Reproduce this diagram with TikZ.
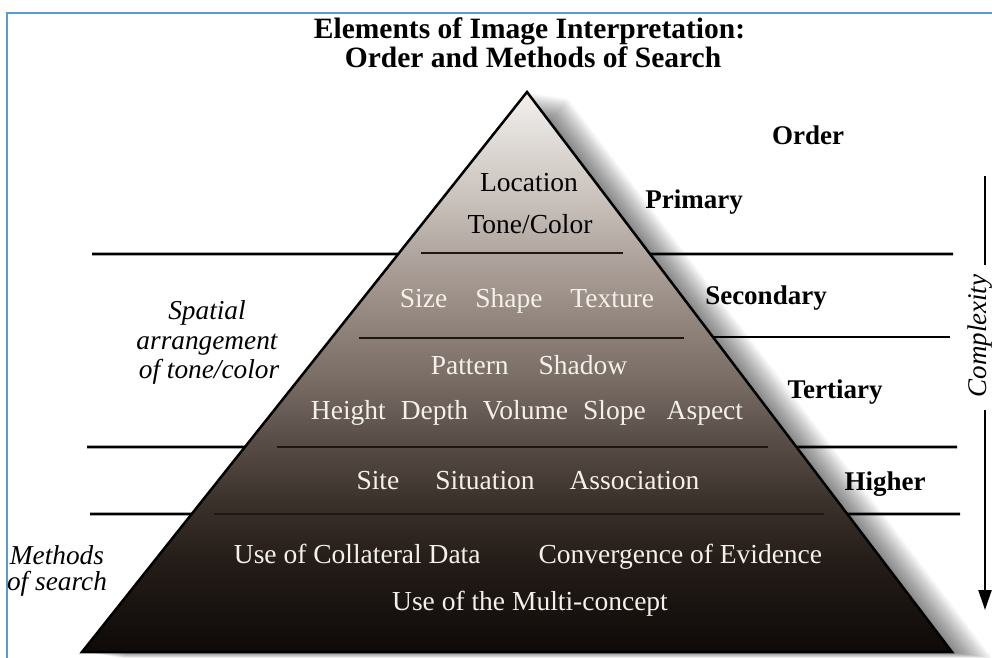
\documentclass[tikz,border=0pt]{standalone}
\usepackage{fontspec}
\setmainfont{Liberation Serif}
\usetikzlibrary{arrows.meta, calc}

\definecolor{c0}{HTML}{0E0A08}
\definecolor{c1}{HTML}{241C18}
\definecolor{c2}{HTML}{3C322C}
\definecolor{c3}{HTML}{594E47}
\definecolor{c4}{HTML}{786C65}
\definecolor{c5}{HTML}{978A82}
\definecolor{c6}{HTML}{ADA29B}
\definecolor{c7}{HTML}{C9C1BB}
\definecolor{c8}{HTML}{F2F0EE}
\definecolor{frameblue}{HTML}{5B9BD5}
\definecolor{lighttext}{HTML}{F4F0EA}
\definecolor{darkline}{HTML}{1E1814}

\pgfdeclareverticalshading{pyrshade}{100bp}{color(0bp)=(c0); color(25bp)=(c0); color(33bp)=(c1); color(38.6bp)=(c2); color(43.9bp)=(c3); color(49.3bp)=(c4); color(55.5bp)=(c5); color(60bp)=(c6); color(65.4bp)=(c7); color(75bp)=(c8); color(100bp)=(c8)}

\begin{document}
\begin{tikzpicture}[x=1pt,y=-1pt,
  titletext/.style={font=\fontsize{29.5}{32}\selectfont\bfseries, anchor=base, inner sep=0pt},
  lvltext/.style={font=\fontsize{27}{30}\selectfont\bfseries, anchor=base, inner sep=0pt},
  sidetext/.style={font=\fontsize{27.3}{30}\selectfont\itshape, anchor=base, inner sep=0pt},
  intext/.style={font=\fontsize{27.5}{30}\selectfont, text=lighttext, anchor=base, inner sep=0pt},
  intextdark/.style={intext, text=black},
  sepline/.style={line width=2.6pt, black},
  innerline/.style={line width=2.4pt, darkline},
  cxline/.style={line width=2.4pt, black},
  shadowlayer/.style={fill=black, opacity=0.022}]

\useasboundingbox (0,0) rectangle (992,657);
\fill[white] (0,0) rectangle (992,657);
\draw[frameblue, line width=2pt] (7,660) -- (7,13) -- (995,13);

% title
\node[titletext] (t1) at (529.5,38) {Elements of Image Interpretation:};
\node[titletext] (t2) at (533,67) {Order and Methods of Search};

% pyramid
\coordinate (apex) at (527,92);
\coordinate (bl) at (82,652);
\coordinate (br) at (952,652);
\foreach \k in {1,...,24}{
  \fill[shadowlayer]
    ([shift={(\k*1.7,\k*0.26)}]apex) -- ([shift={(\k*1.7,\k*0.26)}]bl)
    -- ([shift={(\k*1.7,\k*0.26)}]br) -- cycle;
}
\path[shade, shading=pyrshade, draw=black, line width=2.5pt]
  (apex) -- (bl) -- (br) -- cycle;

% edge points
\coordinate (L254) at ($(apex)!0.289286!(bl)$);
\coordinate (R254) at ($(apex)!0.289286!(br)$);
\coordinate (R337) at ($(apex)!0.4375!(br)$);
\coordinate (L447) at ($(apex)!0.633929!(bl)$);
\coordinate (R447) at ($(apex)!0.633929!(br)$);
\coordinate (L514) at ($(apex)!0.753571!(bl)$);
\coordinate (R514) at ($(apex)!0.753571!(br)$);

% outside lines
\draw[sepline] (92,254) -- (L254);
\draw[sepline] (R254) -- (953,254);
\draw[sepline] (R337) -- (950,337);
\draw[sepline] (87,447) -- (L447);
\draw[sepline] (R447) -- (957,447);
\draw[sepline] (90,514) -- (L514);
\draw[sepline] (R514) -- (960,514);

% inside lines
\draw[innerline] (421,253) -- (623,253);
\draw[innerline] (359,338) -- (684,338);
\draw[innerline] (277,447) -- (768,447);
\draw[innerline] (214,514) -- (824,514);

% inside texts
\node[intextdark] (loc) at (529,191) {Location};
\node[intextdark] (tone) at (530,233) {Tone/Color};
\node[intext] (sst) at (527,307) {Size\hspace{28pt}Shape\hspace{28pt}Texture};
\node[intext] (pat) at (529,374) {Pattern\hspace{30pt}Shadow};
\node[intext] (hdv) at (527,419) {Height\hspace{15pt}Depth\hspace{15pt}Volume\hspace{15pt}Slope\hspace{21pt}Aspect};
\node[intext] (site) at (528,489) {Site\hspace{36pt}Situation\hspace{35pt}Association};
\node[intext] (coll) at (528,563) {Use of Collateral Data\hspace{58pt}Convergence of Evidence};
\node[intext] (multi) at (530,610) {Use of the Multi-concept};

% right labels
\node[lvltext] (order) at (808,144) {Order};
\node[lvltext] (prim) at (694,208) {Primary};
\node[lvltext] (sec) at (766,304) {Secondary};
\node[lvltext] (ter) at (835,398) {Tertiary};
\node[lvltext] (hi) at (885,490) {Higher};

% left labels
\node[sidetext] (sp1) at (207,319) {Spatial};
\node[sidetext] (sp2) at (207,349) {arrangement};
\node[sidetext] (sp3) at (209,378) {of tone/color};
\node[sidetext] (ms1) at (57,564) {Methods};
\node[sidetext] (ms2) at (57,590) {of search};

% complexity
\node[font=\fontsize{27}{30}\selectfont\itshape, rotate=90, anchor=base, inner sep=0pt] (cx) at (986,336) {Complexity};
\coordinate (ca) at (985,176);
\coordinate (cb) at (985,265);
\coordinate (cc) at (985,410);
\coordinate (cd) at (985,610);
\draw[cxline] (ca) -- (cb);
\draw[cxline, -{Triangle[length=20pt,width=13pt]}] (cc) -- (cd);
\end{tikzpicture}
\end{document}
